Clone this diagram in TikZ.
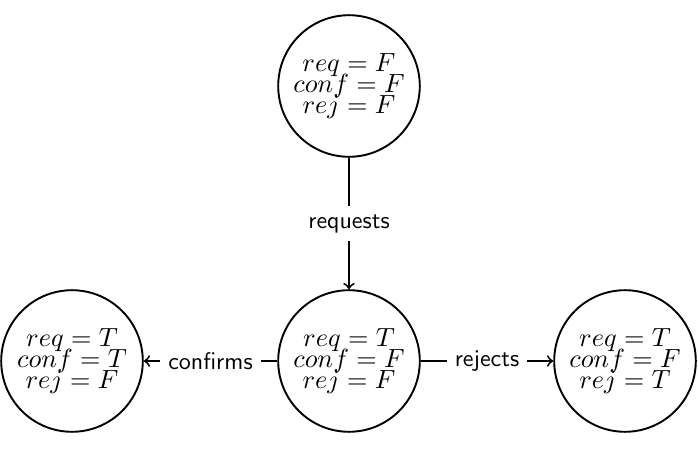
\documentclass[tikz,border=0pt]{standalone}
\begin{document}
\begin{tikzpicture}[x=0.41667pt, y=-0.41667pt,
  state/.style={circle, draw, line width=0.8pt, minimum size=59pt, inner sep=0pt, align=center,
    font=\fontsize{10.5}{12.6}\selectfont},
  lbl/.style={fill=white, font=\sffamily},
  conn/.style={->, line width=0.8pt}]
\useasboundingbox (0,0) rectangle (698,454);
\node[state] (s0) at (349,86)  {$req = F$\\[-3.9pt]$conf = F$\\[-3.9pt]$rej = F$};
\node[state] (s1) at (349,361) {$req = T$\\[-3.9pt]$conf = F$\\[-3.9pt]$rej = F$};
\node[state] (s2) at (72,361)  {$req = T$\\[-3.9pt]$conf = T$\\[-3.9pt]$rej = F$};
\node[state] (s3) at (625,361) {$req = T$\\[-3.9pt]$conf = F$\\[-3.9pt]$rej = T$};
\draw[conn] (s0) -- node[lbl] {requests} (s1);
\draw[conn] (s1) -- node[lbl] {confirms} (s2);
\draw[conn] (s1) -- node[lbl] {rejects} (s3);
\end{tikzpicture}
\end{document}
